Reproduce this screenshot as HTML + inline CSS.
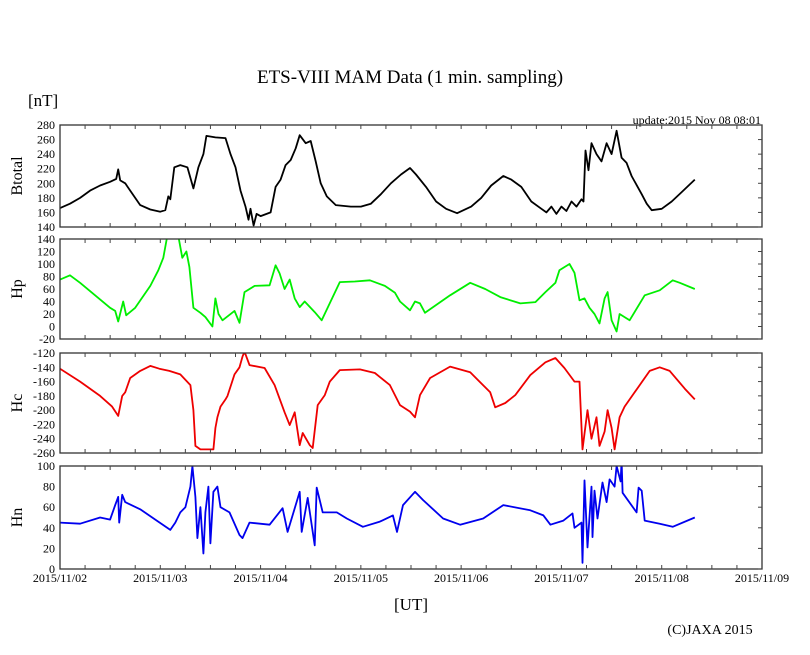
<!DOCTYPE html>
<html><head><meta charset="utf-8"><style>
body{margin:0;background:#fff;}
svg{display:block;font-family:"Liberation Serif",serif;}
</style></head><body>
<svg id="c" width="810" height="655" viewBox="0 0 810 655">
<text x="410" y="83" font-size="19" text-anchor="middle">ETS-VIII MAM Data (1 min. sampling)</text>
<text x="28" y="106" font-size="17">[nT]</text>
<text x="761" y="124" font-size="12" text-anchor="end">update:2015 Nov 08 08:01</text>
<text x="411" y="610" font-size="17" text-anchor="middle">[UT]</text>
<text x="710" y="634" font-size="14" text-anchor="middle">(C)JAXA 2015</text>
</svg>
<script>
const dateLabels=["2015/11/02","2015/11/03","2015/11/04","2015/11/05","2015/11/06","2015/11/07","2015/11/08","2015/11/09"];
const btT=[0,.1,.2,.3,.4,.5,.56,.58,.6,.65,.7,.8,.9,1.0,1.05,1.08,1.1,1.14,1.2,1.27,1.33,1.38,1.43,1.46,1.55,1.65,1.7,1.75,1.8,1.85,1.88,1.9,1.93,1.96,2.0,2.1,2.15,2.2,2.25,2.3,2.35,2.39,2.45,2.5,2.55,2.6,2.66,2.75,2.9,3.0,3.1,3.2,3.3,3.4,3.49,3.55,3.65,3.75,3.85,3.96,4.1,4.2,4.3,4.42,4.5,4.6,4.7,4.8,4.85,4.9,4.95,5.0,5.05,5.1,5.15,5.2,5.22,5.24,5.27,5.3,5.35,5.4,5.45,5.5,5.55,5.6,5.65,5.7,5.8,5.85,5.9,6.0,6.1,6.2,6.33];
const btV=[166,172,180,190,197,202,206,219,204,200,190,170,164,161,163,182,178,222,225,222,193,222,240,265,263,262,240,222,190,168,150,165,142,158,155,160,195,205,225,232,248,266,255,258,230,200,182,170,168,168,172,185,200,212,221,212,195,175,165,159,168,180,197,210,205,195,175,165,160,168,158,168,162,175,168,178,175,245,218,255,240,230,255,240,272,235,228,210,185,172,163,165,175,188,205];
const hpT=[0,.10,.20,.35,.50,.55,.58,.63,.66,.75,.90,.98,1.03,1.07,1.18,1.22,1.26,1.29,1.33,1.40,1.45,1.52,1.55,1.58,1.62,1.74,1.79,1.84,1.94,2.09,2.15,2.19,2.24,2.29,2.34,2.39,2.44,2.54,2.61,2.79,2.94,3.09,3.24,3.34,3.39,3.49,3.54,3.59,3.64,3.89,4.09,4.24,4.39,4.59,4.74,4.84,4.94,4.98,5.03,5.08,5.13,5.18,5.23,5.28,5.33,5.38,5.43,5.46,5.50,5.55,5.58,5.68,5.83,5.98,6.11,6.18,6.33];
const hpV=[75,82,70,50,30,25,8,40,18,30,65,90,110,145,145,110,120,95,30,22,15,0,45,20,10,25,6,55,65,66,98,85,60,75,45,31,40,23,10,71,72,74,65,54,40,26,40,37,22,50,70,60,47,37,39,55,70,90,95,100,86,42,45,30,20,5,45,55,10,-8,20,10,50,58,74,70,60];
const hcT=[0,.20,.40,.52,.58,.62,.65,.70,.80,.90,.99,1.09,1.20,1.30,1.33,1.35,1.40,1.53,1.55,1.57,1.60,1.65,1.67,1.74,1.79,1.82,1.84,1.89,2.04,2.14,2.24,2.29,2.34,2.39,2.42,2.49,2.52,2.57,2.64,2.69,2.79,2.99,3.14,3.29,3.39,3.49,3.54,3.59,3.69,3.89,4.09,4.29,4.34,4.44,4.54,4.69,4.84,4.94,5.03,5.13,5.18,5.21,5.26,5.30,5.35,5.38,5.43,5.46,5.50,5.53,5.58,5.63,5.78,5.88,5.98,6.08,6.23,6.33];
const hcV=[-142,-160,-180,-195,-208,-180,-175,-155,-145,-138,-142,-145,-150,-165,-200,-250,-255,-255,-225,-210,-195,-185,-180,-150,-140,-125,-118,-137,-141,-165,-203,-221,-203,-249,-232,-249,-253,-193,-179,-160,-144,-143,-148,-165,-193,-202,-210,-179,-155,-139,-147,-175,-196,-190,-179,-151,-133,-127,-141,-160,-160,-255,-200,-240,-210,-250,-230,-200,-225,-255,-210,-195,-165,-145,-140,-145,-170,-185];
const hnT=[0,.20,.40,.50,.55,.58,.59,.62,.65,.80,.95,1.10,1.15,1.20,1.25,1.30,1.32,1.35,1.37,1.40,1.43,1.45,1.48,1.50,1.53,1.57,1.60,1.69,1.79,1.82,1.89,2.09,2.22,2.27,2.39,2.41,2.47,2.54,2.56,2.62,2.76,2.86,3.02,3.19,3.32,3.36,3.42,3.54,3.62,3.82,3.99,4.22,4.42,4.69,4.82,4.89,5.02,5.11,5.13,5.20,5.21,5.23,5.26,5.30,5.31,5.33,5.36,5.41,5.45,5.48,5.53,5.55,5.59,5.60,5.61,5.75,5.77,5.80,5.83,5.98,6.11,6.33];
const hnV=[45,44,50,48,62,70,45,72,65,58,48,38,45,55,60,80,100,70,30,60,15,55,80,25,75,80,60,55,33,30,45,43,59,36,75,36,69,23,79,55,55,49,41,46,52,36,62,75,67,49,43,49,62,57,52,43,47,54,40,45,6,86,21,80,31,76,49,84,65,87,80,100,85,105,74,55,79,76,47,44,41,50];
const btTicks=[140,160,180,200,220,240,260,280];
const hpTicks=[-20,0,20,40,60,80,100,120,140];
const hcTicks=[-260,-240,-220,-200,-180,-160,-140,-120];
const hnTicks=[0,20,40,60,80,100];

const NS="http://www.w3.org/2000/svg";
const svg=document.getElementById('c');
const X0=60,X1=762,DAYS=7;
const xs=t=>X0+t*(X1-X0)/DAYS;
function mk(tag,attrs,parent){const e=document.createElementNS(NS,tag);for(const k in attrs)e.setAttribute(k,attrs[k]);(parent||svg).appendChild(e);return e;}
const panels=[
 {name:'btotal',label:'Btotal',top:125,bot:227,min:140,max:280,ticks:btTicks,T:btT,V:btV,color:'#000'},
 {name:'hp',label:'Hp',top:239,bot:339,min:-20,max:140,ticks:hpTicks,T:hpT,V:hpV,color:'#00ee00'},
 {name:'hc',label:'Hc',top:353,bot:453,min:-260,max:-120,ticks:hcTicks,T:hcT,V:hcV,color:'#ee0000'},
 {name:'hn',label:'Hn',top:466,bot:569,min:0,max:100,ticks:hnTicks,T:hnT,V:hnV,color:'#0000ee'}
];
panels.forEach((p,i)=>{
 const g=mk('g',{});
 
 
 const ys=v=>p.bot-(v-p.min)/(p.max-p.min)*(p.bot-p.top);
 const cp=mk('clipPath',{id:'cp'+i},g);
 mk('rect',{x:X0,y:p.top,width:X1-X0,height:p.bot-p.top},cp);
 let d='';
 p.T.forEach((t,j)=>{d+=(j?'L':'M')+xs(t).toFixed(1)+' '+ys(p.V[j]).toFixed(1);});
 const path=mk('path',{d:d,fill:'none',stroke:p.color,'stroke-width':1.8,'stroke-linejoin':'round','clip-path':'url(#cp'+i+')'},g);
 
 
 const fr=mk('rect',{x:X0,y:p.top,width:X1-X0,height:p.bot-p.top,fill:'none',stroke:'#333','stroke-width':1.3},g);
 
 
 for(let k=1;k<DAYS*4;k++){const x=xs(k/4);
  mk('line',{x1:x,x2:x,y1:p.top,y2:p.top+4,stroke:'#444','stroke-width':1},g);
  mk('line',{x1:x,x2:x,y1:p.bot,y2:p.bot-4,stroke:'#444','stroke-width':1},g);}
 p.ticks.forEach(v=>{const y=ys(v);
  mk('line',{x1:X1,x2:X1-4,y1:y,y2:y,stroke:'#444','stroke-width':1},g);
  const tl=mk('text',{x:55,y:y+4,'font-size':12,'text-anchor':'end'},g);
  tl.textContent=v;
  
  });
 const cy=(p.top+p.bot)/2;
 const lb=mk('text',{x:0,y:0,'font-size':16,'text-anchor':'middle',transform:'translate(22,'+cy+') rotate(-90)'},g);
 lb.textContent=p.label;
 
 
});
dateLabels.forEach((s,k)=>{
 const t=mk('text',{x:xs(k),y:582,'font-size':12,'text-anchor':'middle'});
 t.textContent=s;
 
 
});
</script>
</body></html>
